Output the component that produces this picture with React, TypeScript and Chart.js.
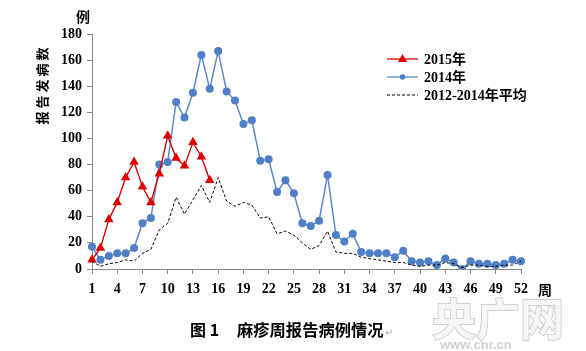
import React, { useEffect, useRef } from "react";
import { Chart, registerables } from "chart.js";

Chart.register(...registerables);

const WEEKS: number[] = Array.from({ length: 52 }, (_, i) => i + 1);
const X_TICK_EVERY = 3;

const SERIES_2015: number[] = [7, 16, 38, 51, 70, 82, 63, 51, 73, 102, 85, 79, 97, 86, 68];

const SERIES_2014: number[] = [
  17, 7, 10, 12, 12, 16, 35, 39, 80, 82, 128, 116, 135, 164, 138, 167, 136, 129, 111, 114,
  83, 84, 59, 68, 58, 35, 33, 37, 72, 26, 21, 27, 13, 12, 12, 12, 9, 14, 6, 5,
  6, 3, 8, 5, 0, 6, 4, 4, 3, 4, 7, 6,
];

const SERIES_AVG: number[] = [
  6, 2, 4, 5, 7, 6, 12, 15, 30, 35, 55, 42, 53, 64, 51, 70, 52, 48, 51, 49,
  39, 40, 27, 29, 26, 20, 15, 18, 29, 13, 12, 12, 9, 8, 7, 6, 5, 5, 3, 2,
  3, 3, 5, 4, 1, 3, 3, 2, 2, 3, 3, 6,
];

const SERIES_NAMES: string[] = ["2015年", "2014年", "2012-2014年平均"];
const Y_TITLE = "报告发病数";
const Y_UNIT = "例";
const X_UNIT = "周";
const CAPTION_NUM = "图 1";
const CAPTION_TEXT = "麻疹周报告病例情况";

const RED = "#e00000";
const BLUE = "#4f7fc6";
const BLUE_LINE = "#5b88cc";
const AXIS = "#8a8a8a";
const TICK_FONT = { family: "'Liberation Serif', 'Noto Sans CJK SC', serif", size: 14, weight: "bold" as const };
const TXT_FONT = "bold 14px 'Liberation Serif', 'Noto Sans CJK SC', serif";

const extrasPlugin = {
  id: "extras",
  afterDraw(chart: any) {
    const ctx = chart.ctx as CanvasRenderingContext2D;
    ctx.save();
    ctx.fillStyle = "#000";

    // y-axis title (rotated)
    ctx.save();
    ctx.translate(42, 86);
    ctx.rotate(-Math.PI / 2);
    ctx.font = "bold 13px 'Noto Sans CJK SC', sans-serif";
    ctx.textAlign = "center";
    ctx.textBaseline = "middle";
    ctx.fillText(Y_TITLE.split("").join(" "), 0, 0);
    ctx.restore();

    // unit labels
    ctx.font = "bold 14px 'Noto Sans CJK SC', sans-serif";
    ctx.textAlign = "center";
    ctx.textBaseline = "middle";
    ctx.fillText(Y_UNIT, 83, 17);
    ctx.fillText(X_UNIT, 545, 290);

    // legend
    const lx0 = 387, lx1 = 418, tx = 424;
    const rows = [59, 77, 95];
    rows.forEach((y, i) => {
      ctx.save();
      ctx.beginPath();
      if (i === 0) { ctx.strokeStyle = RED; ctx.lineWidth = 1.3; }
      else if (i === 1) { ctx.strokeStyle = BLUE_LINE; ctx.lineWidth = 1.3; }
      else { ctx.strokeStyle = "#000"; ctx.lineWidth = 1; ctx.setLineDash([3, 2]); }
      ctx.moveTo(lx0, y);
      ctx.lineTo(lx1, y);
      ctx.stroke();
      ctx.setLineDash([]);
      const cx = (lx0 + lx1) / 2;
      if (i === 0) {
        ctx.fillStyle = RED;
        ctx.beginPath();
        ctx.moveTo(cx, y - 5);
        ctx.lineTo(cx + 4.5, y + 3);
        ctx.lineTo(cx - 4.5, y + 3);
        ctx.closePath();
        ctx.fill();
      } else if (i === 1) {
        ctx.fillStyle = BLUE;
        ctx.beginPath();
        ctx.arc(cx, y, 2.8, 0, Math.PI * 2);
        ctx.fill();
      }
      ctx.restore();
      ctx.fillStyle = "#000";
      ctx.font = TXT_FONT;
      ctx.textAlign = "left";
      ctx.textBaseline = "middle";
      ctx.fillText(SERIES_NAMES[i], tx, y + 1);
    });

    // caption
    ctx.font = "bold 16px 'Noto Sans CJK SC', sans-serif";
    ctx.textAlign = "left";
    ctx.textBaseline = "middle";
    ctx.fillStyle = "#000";
    ctx.fillText(CAPTION_NUM, 190, 330);
    ctx.font = "bold 16.3px 'Noto Sans CJK SC', sans-serif";
    ctx.fillText(CAPTION_TEXT, 237, 330);
    const w = ctx.measureText(CAPTION_TEXT).width;
    ctx.fillStyle = "#aaa";
    ctx.font = "10px sans-serif";
    ctx.fillText("↵", 237 + w + 1, 333);

    // watermark
    ctx.font = "bold 44px 'Noto Sans CJK SC', sans-serif";
    ctx.textAlign = "left";
    ctx.textBaseline = "alphabetic";
    ctx.fillStyle = "#f6f6f6";
    ctx.strokeStyle = "#c4c4c4";
    ctx.lineWidth = 1.5;
    ctx.strokeText("央广网", 432, 336);
    ctx.fillText("央广网", 432, 336);
    ctx.font = "bold 13px 'Liberation Sans', sans-serif";
    ctx.fillStyle = "#d0d0d0";
    ctx.fillText("www.cnr.cn", 440, 349);

    ctx.restore();
  },
};

export default function App() {
  const ref = useRef<HTMLCanvasElement | null>(null);
  useEffect(() => {
    document.body.style.margin = "0";
    if (!ref.current) return;
    const chart = new Chart(ref.current, {
      type: "line",
      data: {
        labels: WEEKS.map(String),
        datasets: [
          {
            label: SERIES_NAMES[0],
            data: SERIES_2015,
            borderColor: RED,
            backgroundColor: RED,
            borderWidth: 1.4,
            pointStyle: "triangle",
            pointRadius: 5.5,
            pointBackgroundColor: RED,
            pointBorderColor: RED,
            pointBorderWidth: 0,
            tension: 0,
            order: 1,
          },
          {
            label: SERIES_NAMES[1],
            data: SERIES_2014,
            borderColor: BLUE_LINE,
            backgroundColor: BLUE,
            borderWidth: 1.5,
            pointStyle: "circle",
            pointRadius: 4,
            pointBackgroundColor: BLUE,
            pointBorderColor: BLUE,
            pointBorderWidth: 0,
            tension: 0,
            order: 2,
          },
          {
            label: SERIES_NAMES[2],
            data: SERIES_AVG,
            borderColor: "#000",
            borderWidth: 1,
            borderDash: [3, 2],
            pointRadius: 0,
            tension: 0,
            order: 0,
          },
        ],
      },
      options: {
        animation: false,
        responsive: false,
        maintainAspectRatio: false,
        layout: { padding: { left: 0, right: 65, top: 34, bottom: 52 } },
        plugins: { legend: { display: false }, tooltip: { enabled: false } },
        scales: {
          x: {
            grid: { display: true, drawOnChartArea: false, drawTicks: true, tickLength: 5, color: AXIS },
            border: { display: true, color: AXIS },
            ticks: {
              autoSkip: false,
              maxRotation: 0,
              minRotation: 0,
              padding: 7,
              color: "#000",
              font: TICK_FONT,
              callback: (_v: any, i: number) => ((i % X_TICK_EVERY === 0) ? String(WEEKS[i]) : null),
            },
            afterFit: (s: any) => { s.height = 30; },
          },
          y: {
            min: 0,
            max: 180,
            grid: { display: true, drawOnChartArea: false, drawTicks: true, tickLength: 5, color: AXIS },
            border: { display: true, color: AXIS },
            ticks: { stepSize: 20, padding: 5, color: "#000", font: TICK_FONT },
            afterFit: (s: any) => { s.width = 92; },
          },
        },
      },
      plugins: [extrasPlugin],
    });
    return () => chart.destroy();
  }, []);
  return (
    <div style={{ width: 586, height: 351, background: "#fff" }}>
      <canvas ref={ref} width={586} height={351} style={{ width: 586, height: 351, display: "block" }} />
    </div>
  );
}
